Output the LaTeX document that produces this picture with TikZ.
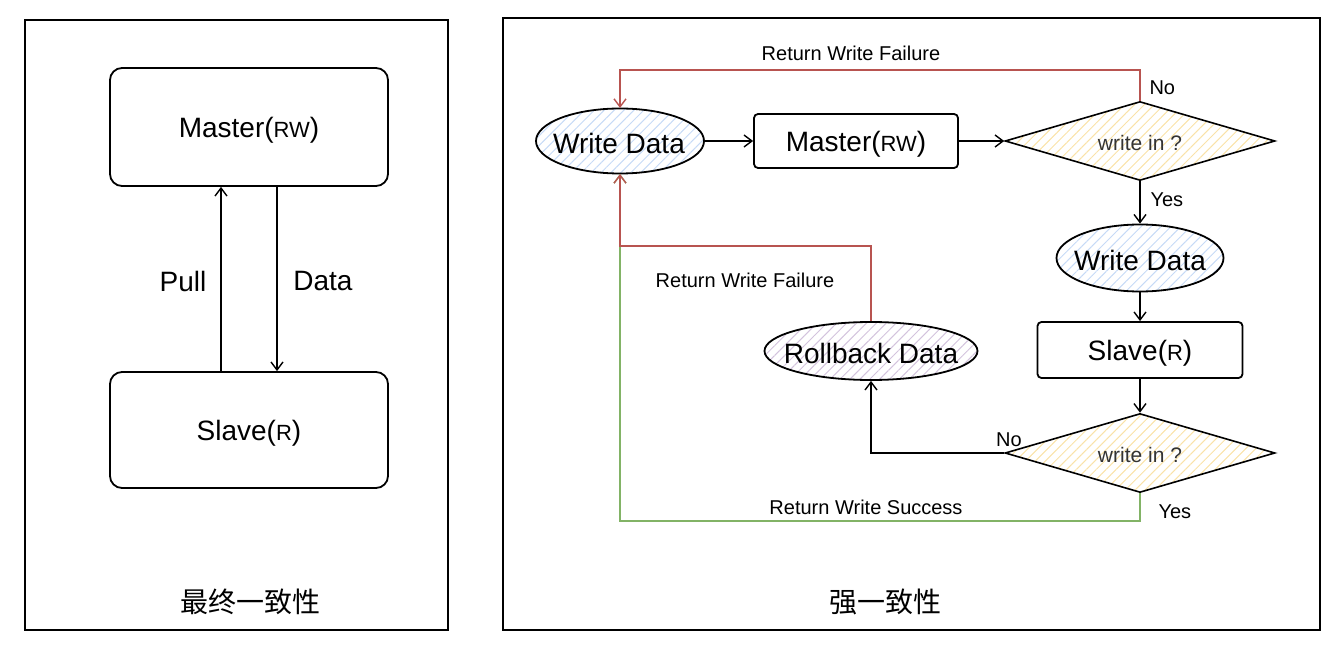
\documentclass[tikz,border=0pt]{standalone}
\usepackage{fontspec}
\setmainfont{Liberation Sans}
\newfontfamily\cjk{Noto Sans CJK SC}
\usetikzlibrary{shapes.geometric,arrows.meta,patterns.meta}
\definecolor{redline}{HTML}{B85450}
\definecolor{greenline}{HTML}{82B366}
\definecolor{hatchblue}{HTML}{C6DAF6}
\definecolor{hatchpurple}{HTML}{D3C3DD}
\definecolor{hatchyellow}{HTML}{F9E2A8}
\definecolor{qtext}{HTML}{333333}
\newcommand\mysm[1]{{\fontsize{22}{24}\selectfont #1}}
\tikzset{
  frame/.style={draw, line width=1.6pt},
  bigbox/.style={draw, line width=1.8pt, rounded corners=12pt, inner sep=0pt},
  box/.style={draw, line width=1.8pt, rounded corners=4pt, inner sep=0pt},
  ell/.style={ellipse, draw, line width=1.8pt, inner sep=0pt},
  dia/.style={diamond, draw, line width=1.6pt, inner sep=0pt, minimum width=270pt, minimum height=79pt,
    pattern={Lines[angle=45,distance=7pt,line width=1pt]}, pattern color=hatchyellow},
  qtxt/.style={text=qtext, font=\fontsize{21}{23}\selectfont},
  hblue/.style={pattern={Lines[angle=45,distance=7pt,line width=1pt]}, pattern color=hatchblue},
  hpurple/.style={pattern={Lines[angle=45,distance=7pt,line width=1pt]}, pattern color=hatchpurple},
  conn/.style={line width=1.4pt, -{Straight Barb[length=8pt,width=12pt]}},
  big/.style={font=\fontsize{28}{30}\selectfont},
  mid/.style={font=\fontsize{20}{22}\selectfont},
  cjklabel/.style={font=\cjk\fontsize{28}{30}\selectfont}
}
\begin{document}
\begin{tikzpicture}[x=1pt,y=-1pt]
\useasboundingbox (0,0) rectangle (1344,655);
% ---------- left panel ----------
\draw[frame] (25,20) rectangle (448,630);
\node[bigbox, big, minimum width=278pt, minimum height=118pt] (lm) at (249,127) {};
\node[big] (lmt) at (249,130) {Master(\mysm{RW})};
\node[bigbox, big, minimum width=278pt, minimum height=116pt] (ls) at (249,430) {};
\node[big] (lst) at (249,433) {Slave(\mysm{R})};
\coordinate (px) at (221,0);
\coordinate (dx) at (277,0);
\draw[conn] (ls.north -| px) -- (lm.south -| px);
\draw[conn] (lm.south -| dx) -- (ls.north -| dx);
\node[big] (pull) at (183,281) {Pull};
\node[big] (data) at (323,281) {Data};
\node[cjklabel] (t1) at (250,602) {最终一致性};
% ---------- right panel ----------
\draw[frame] (503,18) rectangle (1320,630);
\node[ell, hblue, minimum width=168pt, minimum height=65pt] (w1) at (620,141) {};
\node[big] (w1t) at (619,143) {Write Data};
\node[box, minimum width=204pt, minimum height=54pt] (m) at (856,141) {};
\node[big] (mt) at (856,144) {Master(\mysm{RW})};
\node[dia] (d1) at (1140,141) {};
\node[qtxt] (d1t) at (1140,143) {write in ?};
\node[ell, hblue, minimum width=167pt, minimum height=67pt] (w2) at (1140,258) {};
\node[big] (w2t) at (1140,260) {Write Data};
\node[box, minimum width=205pt, minimum height=56pt] (s) at (1140,350) {};
\node[big] (st) at (1140,353) {Slave(\mysm{R})};
\node[dia] (d2) at (1140,453) {};
\node[qtxt] (d2t) at (1140,455) {write in ?};
\node[ell, hpurple, minimum width=213pt, minimum height=58pt] (rb) at (871,351) {};
\node[big] (rbt) at (871,353) {Rollback Data};
\coordinate (ytop) at (0,70);
\coordinate (ymid) at (0,246);
\coordinate (ybot) at (0,521);
\draw[conn] (w1) -- (m);
\draw[conn] (m) -- (d1);
\draw[conn] (d1) -- (w2);
\draw[conn] (w2) -- (s);
\draw[conn] (s) -- (d2);
\draw[conn] (d2.west) -| (rb.south);
\draw[conn, greenline] (d2.south) -- (d2.south |- ybot) -| (w1.south);
\draw[conn, redline] (rb.north) -- (rb.north |- ymid) -| (w1.south);
\draw[conn, redline] (d1.north) -- (d1.north |- ytop) -| (w1.north);
\node[mid] (l1) at (851,53) {Return Write Failure};
\node[mid, anchor=west] (l2) at (1146,88) {No};
\node[mid, anchor=west] (l3) at (1147,200) {Yes};
\node[mid] (l4) at (745,280) {Return Write Failure};
\node[mid] (l5) at (1009,440) {No};
\node[mid] (l6) at (866,507) {Return Write Success};
\node[mid, anchor=west] (l7) at (1155,512) {Yes};
\node[cjklabel] (t2) at (885,602) {强一致性};
\end{tikzpicture}
\end{document}
